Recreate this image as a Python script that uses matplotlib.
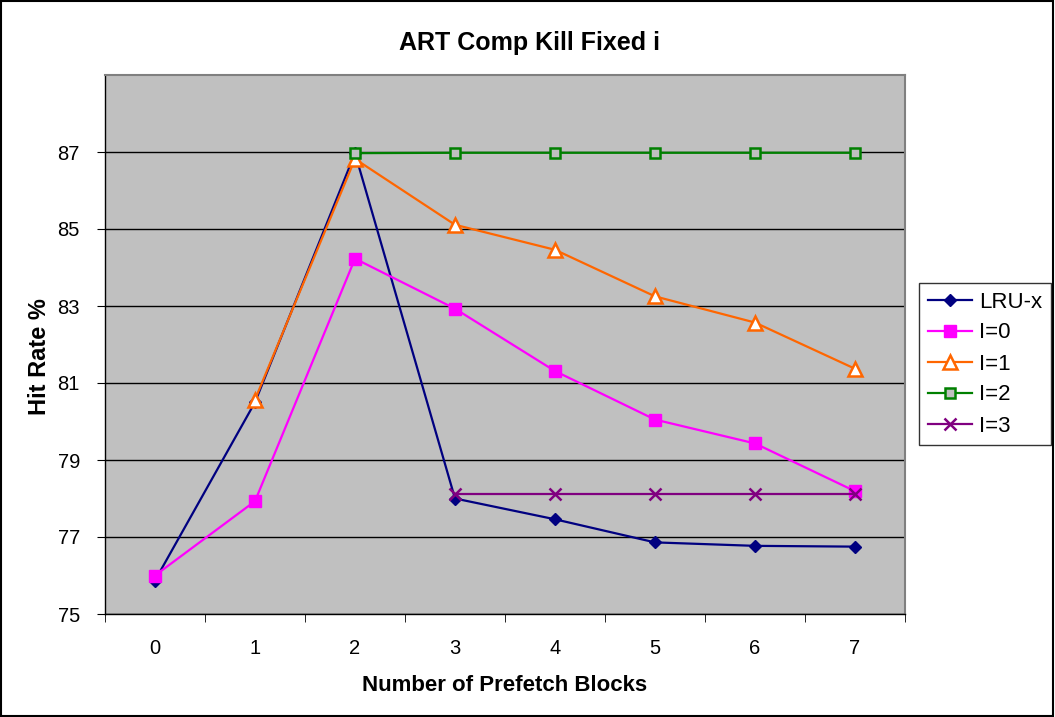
import numpy as np
import matplotlib.pyplot as plt
from matplotlib.patches import Rectangle

plt.rcParams['font.family'] = ['Liberation Sans', 'DejaVu Sans']

blocks = [0, 1, 2, 3, 4, 5, 6, 7]
lru_x = [75.87, 80.5, 86.97, 78.0, 77.46, 76.86, 76.77, 76.75]
i0 = [76.0, 77.93, 84.23, 82.93, 81.31, 80.05, 79.43, 78.19]
i1 = [None, 80.57, 86.82, 85.11, 84.46, 83.25, 82.57, 81.37]
i2 = [None, None, 86.97, 86.98, 86.98, 86.98, 86.98, 86.98]
i3 = [None, None, None, 78.12, 78.12, 78.12, 78.12, 78.12]
yticks = [75, 77, 79, 81, 83, 85, 87]


def arr(v):
    return np.array([np.nan if x is None else x for x in v], dtype=float)


fig = plt.figure(figsize=(10.55, 7.17), dpi=100)
ax = fig.add_axes([105/1055, 103/717, 800/1055, 539/717])
ax.set_facecolor('#C0C0C0')

ax.plot(blocks, arr(lru_x), color='#000080', lw=1.6, marker='D', ms=6.5,
        mfc='#000080', mec='#000080', label='LRU-x', zorder=3)
ax.plot(blocks, arr(i0), color='#FF00FF', lw=1.6, marker='s', ms=8,
        mfc='#FF00FF', mec='#FF00FF', label='I=0', zorder=3)
ax.plot(blocks, arr(i1), color='#FF6600', lw=1.6, marker='^', ms=9.5,
        mfc='white', mec='#FF6600', mew=1.8, label='I=1', zorder=3)
ax.plot(blocks, arr(i2), color='#008000', lw=1.6, marker='s', ms=7.5,
        mfc='#C0C0C0', mec='#008000', mew=1.8, label='I=2', zorder=4)
ax.plot(blocks, arr(i3), color='#800080', lw=1.6, marker='x', ms=9,
        mec='#800080', mew=1.8, label='I=3', zorder=3)

ax.set_xlim(-0.5, 7.5)
ax.set_ylim(75, 89)
ax.set_yticks(yticks)
ax.yaxis.grid(True, color='black', lw=1)
ax.set_axisbelow(True)

ax.set_xticks(blocks)
ax.set_xticks(np.arange(-0.5, 8, 1), minor=True)
ax.tick_params(axis='x', which='major', length=0, pad=18, labelsize=14.5)
ax.tick_params(axis='x', which='minor', length=6, direction='out', color='black')
ax.tick_params(axis='y', length=6, direction='out', labelsize=14.5, pad=12)

for s in ['top', 'right']:
    ax.spines[s].set_color('#808080')
    ax.spines[s].set_linewidth(1.5)
for s in ['left', 'bottom']:
    ax.spines[s].set_color('black')
    ax.spines[s].set_linewidth(1)

ax.set_xlabel('Number of Prefetch Blocks', fontsize=16, fontweight='bold', labelpad=12)
fig.text(40/1055, 1 - 357/717, 'Hit Rate %', rotation=90, ha='center', va='center',
         fontsize=17, fontweight='bold')
fig.text(0.502, 1 - 43/717, 'ART Comp Kill Fixed i', ha='center', va='center',
         fontsize=18, fontweight='bold')

leg = fig.legend(loc='center left', bbox_to_anchor=(919/1055, 1 - 364/717),
                 fontsize=16, frameon=True, fancybox=False, edgecolor='black',
                 handlelength=2.0, handletextpad=0.3, borderpad=0.4,
                 labelspacing=0.45, borderaxespad=0)
leg.get_frame().set_linewidth(1)

fig.patches.append(Rectangle((0.001, 0.001), 0.997, 0.997, transform=fig.transFigure,
                             fill=False, edgecolor='black', lw=1.5))

fig.savefig('out.png', dpi=100)
